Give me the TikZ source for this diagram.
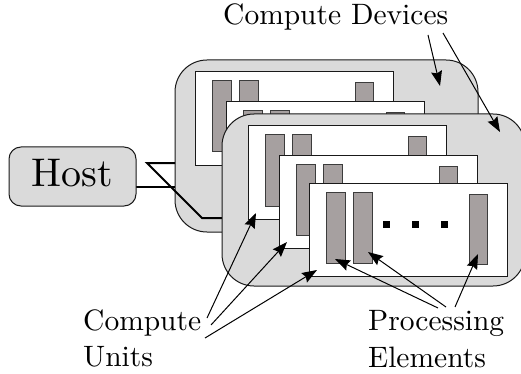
\documentclass[tikz,border=0pt]{standalone}
\usepackage{fontspec}
\newfontfamily\lmten{lmroman10-regular}[Extension=.otf]
\usetikzlibrary{arrows.meta,calc}
\definecolor{devfill}{RGB}{218,218,218}
\definecolor{pefill}{RGB}{166,160,160}
\definecolor{edgecol}{RGB}{25,25,25}
\definecolor{pedge}{RGB}{60,60,60}
\pgfdeclarelayer{rear}
\pgfdeclarelayer{wires}
\pgfsetlayers{rear,wires,main}
\tikzset{
  device/.style={draw=edgecol,line width=1pt,fill=devfill,rounded corners=32pt,
    minimum width=303pt,minimum height=172pt,inner sep=0pt,outer sep=0pt,anchor=north west},
  hostbox/.style={draw=edgecol,line width=1pt,fill=devfill,rounded corners=12pt,
    minimum width=127pt,minimum height=59pt,inner sep=0pt,outer sep=0pt,
    font=\lmten\fontsize{40pt}{48pt}\selectfont,text depth=8pt},
  cuframe/.style={draw=edgecol,line width=1pt,fill=white},
  pebar/.style={draw=pedge,line width=1pt,fill=pefill},
  link/.style={line width=2pt,black},
  lbl/.style={font=\lmten\fontsize{29.5pt}{36pt}\selectfont,inner sep=0pt,anchor=base west},
  pointer/.style={line width=1pt,-{Stealth[length=15pt,width=11pt,inset=2pt]}},
  cupic/.pic={
    \draw[cuframe] (0,0) rectangle (198,93);
    \draw[pebar] (17,9) rectangle ++(19,71);
    \draw[pebar] (44,9) rectangle ++(19,71);
    \draw[pebar] (160,11) rectangle ++(18,70);
    \foreach \dx in {77,106,135}
      \fill[black] (\dx-3.5,37.5) rectangle ++(7,7);
    \coordinate (-sw) at (8,87);
    \coordinate (-pe1) at (26,76);
    \coordinate (-pe2) at (59,69);
    \coordinate (-pe3) at (169,71);
  }
}
\begin{document}
\begin{tikzpicture}[x=1pt,y=-1pt]
\useasboundingbox (0,0) rectangle (521,374);

% rear compute device with its compute units
\begin{pgfonlayer}{rear}
  \node[device] (devA) at (175,60) {};
  \pic (cuA1) at (195,72) {cupic};
  \pic (cuA2) at (226,102) {cupic};
\end{pgfonlayer}

% front compute device with its compute units
\node[device] (devB) at (222,114) {};
\pic (cuB1) at (248,126) {cupic};
\pic (cuB2) at (279,155) {cupic};
\pic (cuB3) at (309,183) {cupic};

% host
\node[hostbox] (host) at (72.5,176.5) {Host};

% host links
\begin{pgfonlayer}{wires}
  \draw[link] (host.east |- 0,187) -- (devA.west |- 0,187);
  \draw[link] (devA.west |- 0,163) -- (147,163) -- (202,218) -- (devB.west |- 0,218);
\end{pgfonlayer}

% labels
\node[lbl] (devlbl) at (223,25) {Compute Devices};
\node[lbl] (culbl1) at (83,330) {Compute};
\node[lbl] (culbl2) at (83,366) {Units};
\node[lbl] (pelbl1) at (368,330) {Processing};
\node[lbl] (pelbl2) at (368,367) {Elements};

% pointer start points
\coordinate (dvs1) at (428,35);
\coordinate (dvs2) at (443,33);
\coordinate (cus1) at (207,318);
\coordinate (cus2) at (211,325);
\coordinate (cus3) at (205,338);
\coordinate (pes1) at (438,308);
\coordinate (pes2) at (446,307);
\coordinate (pes3) at (455,307);

% pointers
\draw[pointer] (dvs1) -- ($(devA.north east)+(-38,26)$);
\draw[pointer] (dvs2) -- ($(devB.north east)+(-25,18)$);
\draw[pointer] (cus1) -- (cuB1-sw);
\draw[pointer] (cus2) -- (cuB2-sw);
\draw[pointer] (cus3) -- (cuB3-sw);
\draw[pointer] (pes1) -- (cuB3-pe1);
\draw[pointer] (pes2) -- (cuB3-pe2);
\draw[pointer] (pes3) -- (cuB3-pe3);
\end{tikzpicture}
\end{document}
